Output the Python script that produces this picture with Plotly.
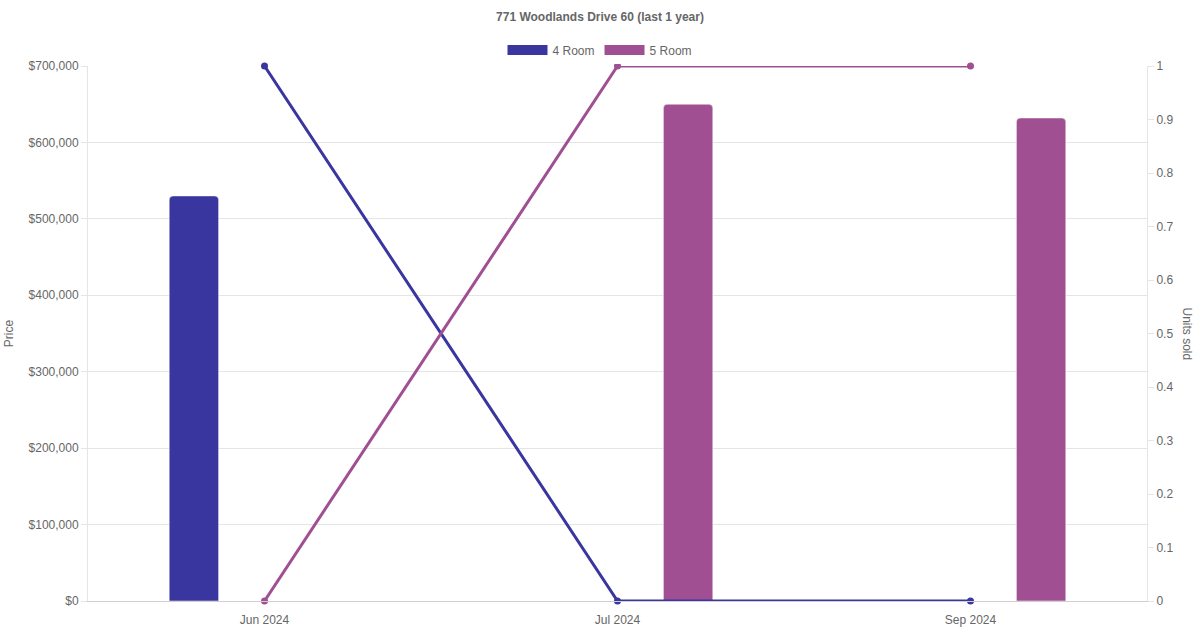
import plotly.graph_objects as go

# data
months = ["Jun 2024", "Jul 2024", "Sep 2024"]
price_4room = [530000, None, None]
price_5room = [None, 650000, 632000]
units_4room = [1, 0, 0]
units_5room = [0, 1, 1]

BLUE = "#3a36a0"
PURPLE = "#a05092"
GREY = "#666666"
FONT = "Liberation Sans, Arial, sans-serif"


def build_figure():
    fig = go.Figure()

    # bars (price, left axis)
    fig.add_trace(go.Bar(
        x=months, y=price_4room, name="4 Room", marker_color=BLUE,
        width=0.14, offset=-0.27, showlegend=False,
    ))
    fig.add_trace(go.Bar(
        x=months, y=price_5room, name="5 Room", marker_color=PURPLE,
        width=0.14, offset=0.13, showlegend=False,
    ))

    # lines (units sold, right axis)
    fig.add_trace(go.Scatter(
        x=months, y=units_4room, name="4 Room", yaxis="y2",
        mode="lines+markers", line=dict(color=BLUE, width=3),
        marker=dict(size=7, color=BLUE), showlegend=False, cliponaxis=False,
    ))
    fig.add_trace(go.Scatter(
        x=months, y=units_5room, name="5 Room", yaxis="y2",
        mode="lines+markers", line=dict(color=PURPLE, width=3),
        marker=dict(size=7, color=PURPLE), showlegend=False, cliponaxis=False,
    ))

    # legend-only entries, wide swatches like the original
    for name, col in [("4 Room", BLUE), ("5 Room", PURPLE)]:
        fig.add_trace(go.Scatter(
            x=[None], y=[None], name=name, mode="lines",
            line=dict(color=col, width=12),
        ))

    fig.update_layout(
        width=1200, height=630,
        template="plotly_white",
        paper_bgcolor="white", plot_bgcolor="white",
        font=dict(family=FONT, size=12, color=GREY),
        title=dict(
            text="<b>771 Woodlands Drive 60 (last 1 year)</b>",
            x=0.5, xanchor="center", y=0.973, yanchor="middle",
            font=dict(size=12, color=GREY),
        ),
        legend=dict(
            orientation="h", xref="container", x=0.5, xanchor="center",
            y=1.03, yanchor="middle",
            font=dict(size=12, color=GREY), itemwidth=40,
        ),
        margin=dict(l=88, r=53, t=66, b=29, autoexpand=False),
        barmode="overlay",
        barcornerradius=4,
        xaxis=dict(
            type="category", range=[-0.5, 2.5], automargin=False,
            showgrid=False, showline=True, linecolor="#cfcfcf", linewidth=1,
            ticks="outside", ticklen=8, tickcolor="rgba(0,0,0,0)",
            tickfont=dict(size=12, color=GREY),
            zeroline=False,
        ),
        yaxis=dict(
            range=[0, 700000], tick0=0, dtick=100000, automargin=False,
            tickprefix="$", tickformat=",d",
            gridcolor="#e5e5e5", showline=True, linecolor="#e5e5e5",
            ticks="outside", ticklen=6, tickcolor="#e5e5e5",
            zeroline=False, tickfont=dict(size=12, color=GREY),
            title=dict(text="Price", font=dict(size=12, color=GREY), standoff=12),
        ),
        yaxis2=dict(
            overlaying="y", side="right", range=[0, 1], dtick=0.1,
            automargin=False,
            showgrid=False, showline=True, linecolor="#e5e5e5",
            ticks="outside", ticklen=6, tickcolor="#e5e5e5",
            zeroline=False, tickfont=dict(size=12, color=GREY),
        ),
        annotations=[dict(
            text="Units sold", textangle=90, xref="paper", yref="paper",
            x=1.0, y=0.5, xshift=49, showarrow=False,
            font=dict(size=12, color=GREY),
        )],
    )
    return fig


def main():
    fig = build_figure()
    # page has a default 8px body margin, drop it so the chart sits at 0,0
    fig.write_html(
        "out.html",
        config={"displayModeBar": False},
        post_script="document.body.style.margin='0';",
    )


if __name__ == "__main__":
    main()
